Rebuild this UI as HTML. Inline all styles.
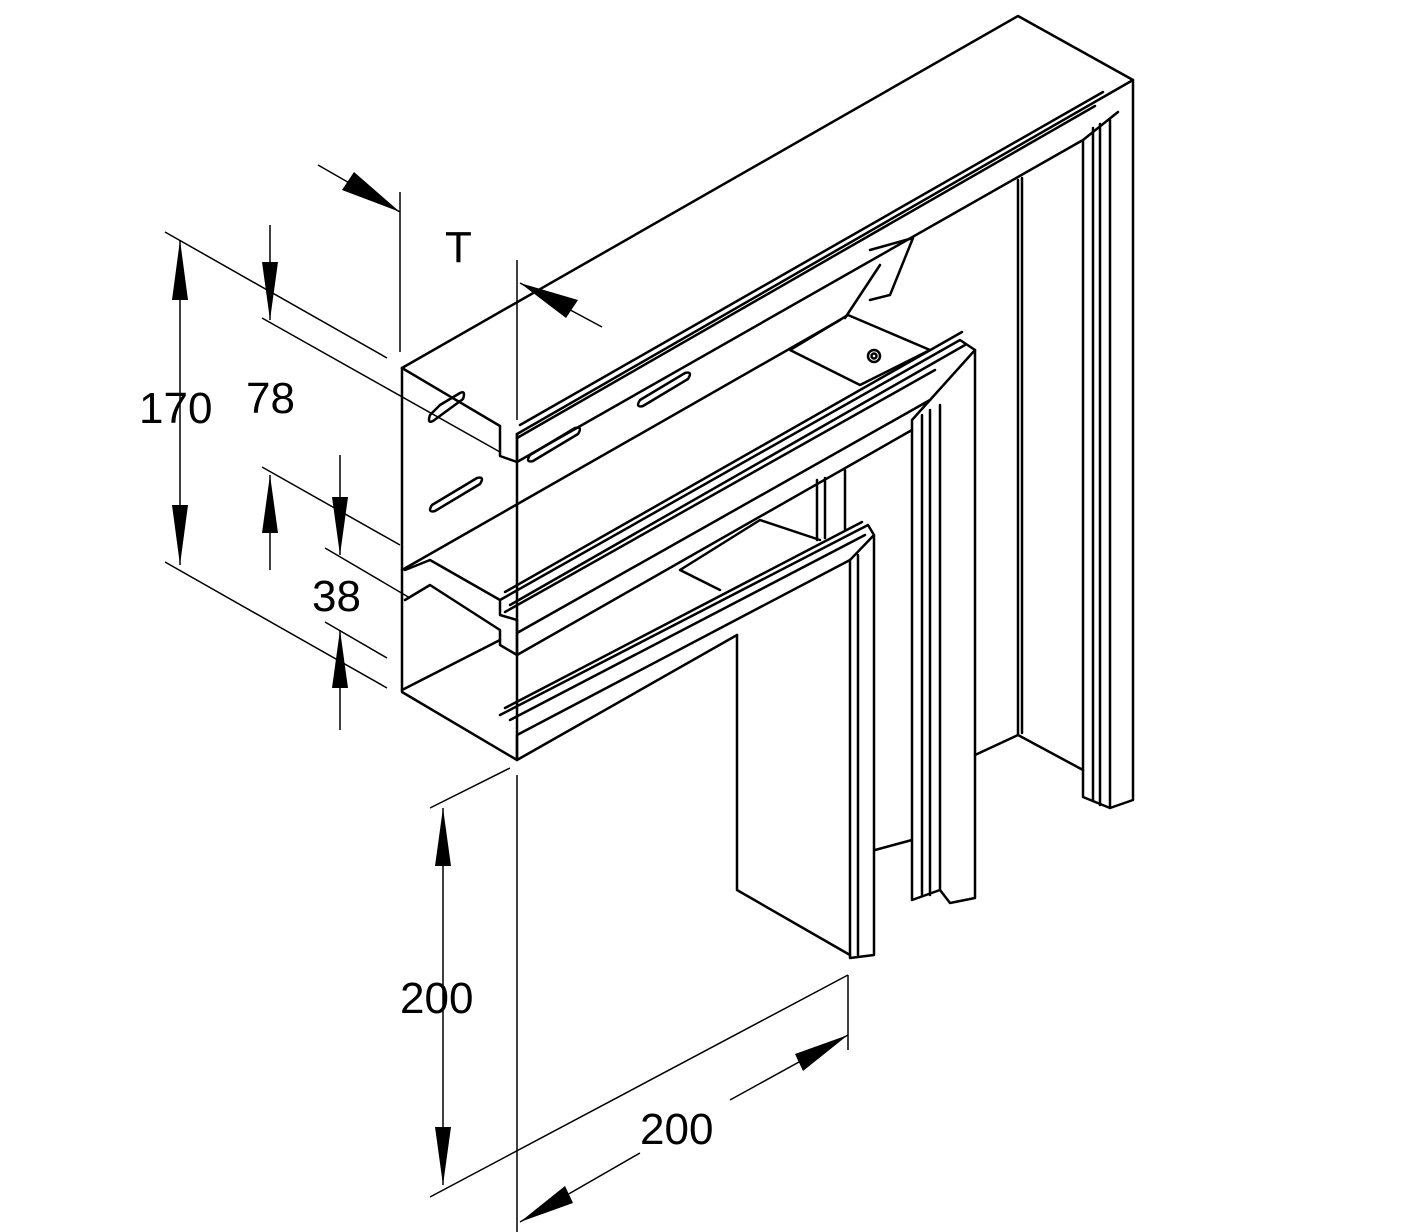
<!DOCTYPE html>
<html><head><meta charset="utf-8"><style>
html,body{margin:0;padding:0;background:#fff}
svg{display:block}
text{font-family:"Liberation Sans",sans-serif;font-size:44px;fill:#000}
</style></head><body>
<svg width="1417" height="1232" viewBox="0 0 1417 1232" xmlns="http://www.w3.org/2000/svg">
<g fill="none" stroke="#000" stroke-width="2.5" stroke-linejoin="round" stroke-linecap="round">
<path d="M402,368 L1018,16 L1133,80 L517,434"/>
<path d="M1133,80 L1133,800 L1110,808 L1083,797 L1083,140 L1118,112"/>
<path d="M1103,92 L520,425"/>
<path d="M1095,106 L517,438"/>
<path d="M1083,140 L517,462"/>
<path d="M1093,128 L1093,800 M1100,124 L1100,805 M1110,120 L1110,808"/>
<path d="M1018,180 L1018,735 L1083,770 M1022,178 L1022,733 M1018,735 L975,755"/>
<path d="M402,368 L402,692 L517,760 L517,434"/>
<path d="M402,368 L500,426"/>
<path d="M500,426 L500,456 L517,462 M517,434 L517,462"/>
<path d="M440,405 l20,-12 q6,-3 3,6 l-30,22 q-6,3 -3,-6 z"/>
<path d="M432,505 l45,-27 q8,-2 3,6 l-45,27 q-8,2 -3,-6 z"/>
<path d="M640,400 l45,-27 q8,-2 3,6 l-45,27 q-8,2 -3,-6 z"/>
<path d="M530,455 l45,-27 q8,-2 3,6 l-45,27 q-8,2 -3,-6 z"/>
<path d="M870,250 L913,238 L890,295 L870,300"/>
<path d="M845,318 L880,265"/>
<path d="M790,350 L848,315 L930,350 L860,385 Z"/>
<circle cx="874" cy="356" r="6"/><circle cx="874" cy="356" r="2.5"/>
<path d="M405,570 L430,560 L500,600 L500,615 L517,620 L517,655"/>
<path d="M402,570 L840,320"/>
<path d="M500,600 L960,340 L975,350 L930,400 L517,633"/>
<path d="M505,592 L962,332 M510,605 L965,345 M505,612 L935,370"/>
<path d="M975,350 L975,898 L950,903 L940,890 L912,900 L912,420 L930,400"/>
<path d="M922,415 L922,895 M930,410 L930,895 M940,405 L940,890"/>
<path d="M517,655 L912,430"/>
<path d="M405,600 L430,585 L500,630 L500,645 L517,655"/>
<path d="M402,690 L500,640"/>
<path d="M817,480 L817,540 M825,478 L825,538 M845,470 L845,530"/>
<path d="M680,570 L760,520 L820,540 M680,570 L720,590"/>
<path d="M500,715 L868,525 L874,535 L850,560 L517,735 L517,760"/>
<path d="M505,708 L862,522 M510,720 L865,535"/>
<path d="M874,535 L874,955 L850,958 L850,560"/>
<path d="M858,555 L858,955"/>
<path d="M517,760 L737,635"/>
<path d="M737,635 L737,890 L850,955"/>
<path d="M912,840 L875,850"/>
</g>
<g fill="none" stroke="#000" stroke-width="1.5">
<path d="M165,232 L387,358 M165,562 L387,688"/>
<path d="M180,240 L180,565"/>
<path d="M262,318 L500,452 M262,467 L400,545"/>
<path d="M270,225 L270,320 M270,475 L270,570"/>
<path d="M325,548 L410,598 M325,622 L387,658"/>
<path d="M340,455 L340,555 M340,630 L340,730"/>
<path d="M318,165 L400,212 M400,192 L400,352"/>
<path d="M517,260 L517,420 M520,283 L602,327"/>
<path d="M430,808 L510,768 M430,1197 L848,975"/>
<path d="M443,808 L443,1185"/>
<path d="M517,775 L517,1232 M848,975 L848,1050"/>
<path d="M520,1222 L640,1153 M730,1100 L848,1035"/>
</g>
<g fill="#000" stroke="none">
<polygon points="180,240 172,300 188,300"/>
<polygon points="180,565 172,505 188,505"/>
<polygon points="270,320 262,262 278,262"/>
<polygon points="270,475 262,533 278,533"/>
<polygon points="340,555 332,497 348,497"/>
<polygon points="340,630 332,688 348,688"/>
<polygon points="400,212 342,190 354,172"/>
<polygon points="520,283 578,300 566,318"/>
<polygon points="443,808 435,866 451,866"/>
<polygon points="443,1185 435,1127 451,1127"/>
<polygon points="520,1222 565,1186 573,1203"/>
<polygon points="848,1035 803,1071 795,1054"/>
</g>
<text x="139" y="423">170</text>
<text x="246" y="413">78</text>
<text x="312" y="611">38</text>
<text x="445" y="262">T</text>
<text x="400" y="1013">200</text>
<text x="640" y="1144">200</text>
</svg>
</body></html>
